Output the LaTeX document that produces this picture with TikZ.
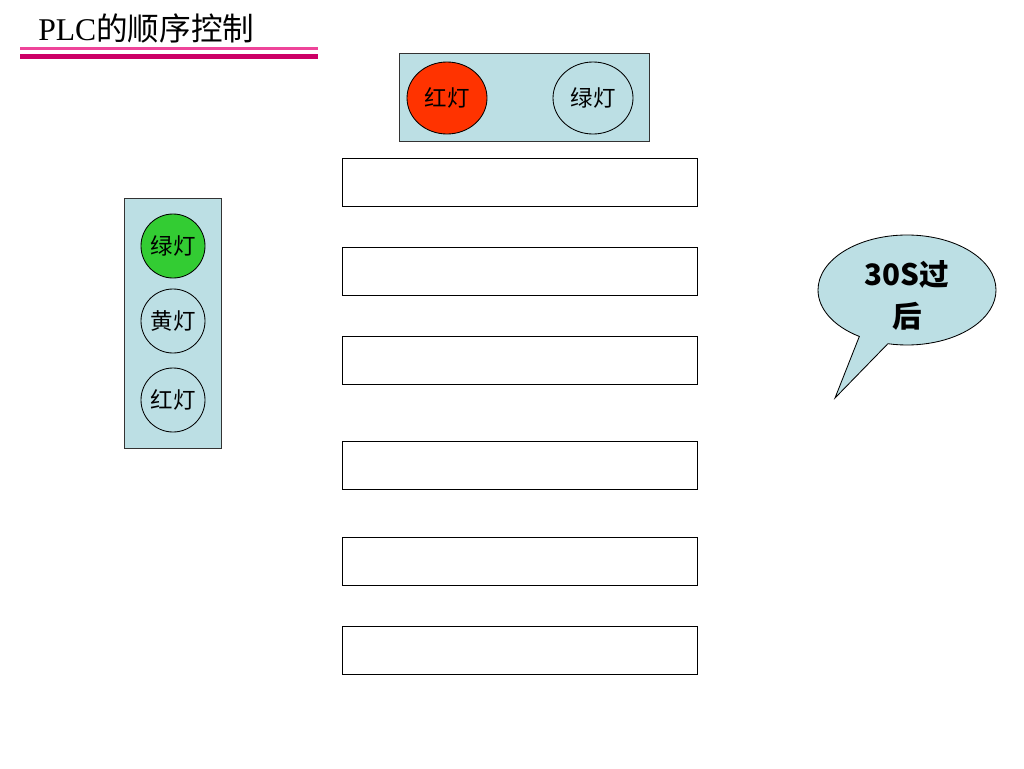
\documentclass[tikz,border=0pt]{standalone}
\usepackage{fontspec}
\usepackage{xcolor}
\usepackage{tikz}
\usetikzlibrary{shapes.geometric,shapes.callouts}
\setmainfont{Liberation Serif}
\newfontfamily\cjk{Noto Sans CJK SC}
\definecolor{panelblue}{HTML}{BCDFE4}
\definecolor{lampred}{HTML}{FF3300}
\definecolor{lampgreen}{HTML}{33CC33}
\definecolor{rulepink}{HTML}{EE4499}
\definecolor{rulemagenta}{HTML}{CC0066}
\tikzset{
  panel/.style={draw=black!80, fill=panelblue, line width=0.6pt},
  lamp/.style={ellipse, draw, line width=0.6pt, inner sep=0pt,
    font=\cjk\fontsize{16}{18}\selectfont},
  stepbox/.style={draw, line width=0.6pt, fill=white, inner sep=0pt,
    minimum width=355*\u, minimum height=48*\u},
}
\begin{document}
\begin{tikzpicture}[x=0.25mm, y=-0.25mm]
  \def\u{0.25mm}
  \useasboundingbox (0,0) rectangle (1024,768);
  % title
  \node[anchor=base west, inner sep=0pt] (title) at (38,40)
    {\fontsize{22.5}{26}\selectfont PLC{\cjk 的顺序控制}};
  \draw[rulepink, line width=3*\u] (20,48) -- (318,48);
  \draw[rulemagenta, line width=5*\u] (20,56) -- (318,56);
  % top signal
  \draw[panel] (399,53) rectangle (649,141);
  \node[lamp, fill=lampred, minimum width=80*\u, minimum height=72*\u]
    (top red) at (447,98) {红灯};
  \node[lamp, minimum width=80*\u, minimum height=72*\u]
    (top green) at (593,98) {绿灯};
  % left signal
  \draw[panel] (124,198) rectangle (221,448);
  \node[lamp, fill=lampgreen, minimum width=64*\u, minimum height=64*\u]
    (left green) at (173,246) {绿灯};
  \node[lamp, minimum width=64*\u, minimum height=64*\u]
    (left yellow) at (173,321) {黄灯};
  \node[lamp, minimum width=64*\u, minimum height=64*\u]
    (left red) at (173,400) {红灯};
  % empty step boxes
  \node[stepbox] (step1) at (519.5,182) {};
  \node[stepbox] (step2) at (519.5,271) {};
  \node[stepbox] (step3) at (519.5,360) {};
  \node[stepbox] (step4) at (519.5,465) {};
  \node[stepbox] (step5) at (519.5,561) {};
  \node[stepbox] (step6) at (519.5,650) {};
  % timer callout
  \coordinate (tip) at (835,398);
  \node[ellipse callout, draw, line width=0.6pt, fill=panelblue,
    minimum width=178*\u, minimum height=110*\u, inner sep=0pt,
    callout absolute pointer={(tip)}, callout pointer arc=20,
    align=center, font=\cjk\bfseries\fontsize{21}{30}\selectfont]
    (timer) at (907,290)
    {\rule{0pt}{23.6pt}30S过\\\raisebox{0pt}[\height][0pt]{后}};
\end{tikzpicture}
\end{document}
